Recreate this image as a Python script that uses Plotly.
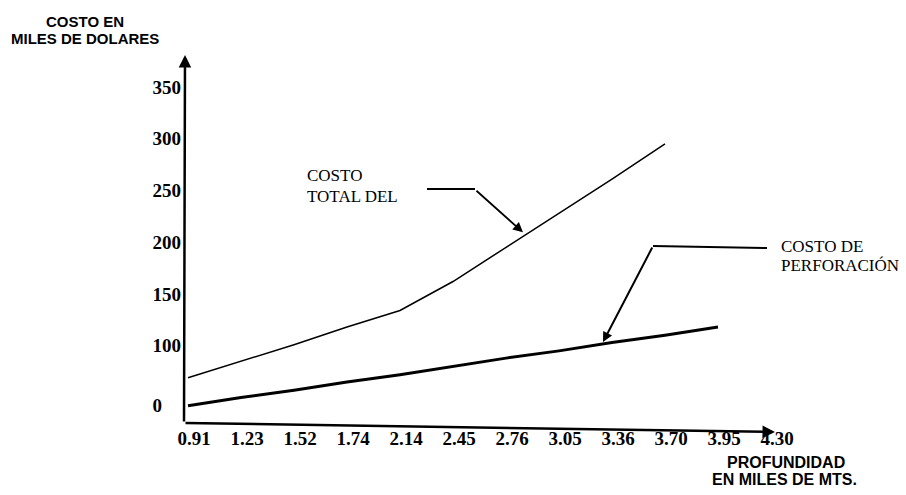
import plotly.graph_objects as go

# ---------------- data ----------------
depth_labels = ["0.91", "1.23", "1.52", "1.74", "2.14", "2.45",
                "2.76", "3.05", "3.36", "3.70", "3.95", "4.30"]
# COSTO TOTAL DEL ... (thin line), values at 0.91 .. 3.70
costo_total = [69, 85, 101, 118, 134, 162, 195, 228, 261, 295]
# COSTO DE PERFORACION (thick line), values at 0.91 .. 3.95
costo_perforacion = [42, 50, 57, 65, 72, 80, 88, 95, 103, 110, 118]
# y tick labels as printed (the hand-drawn axis puts "0" just below 100)
y_tick_text = ["0", "100", "150", "200", "250", "300", "350"]
y_tick_vals = [42, 100, 150, 200, 250, 300, 350]

# ---------------- layout geometry ----------------
W_FIG, H_FIG = 906, 495
L, R, T, B = 184, 806, 50, 423          # plot area in pixels
PW, PH = R - L, B - T
X0PIX, XSTEP = 188, 53                  # pixel of category 0 and step
Y_AT0, YSCALE = 449.2, 1.035            # pixel = Y_AT0 - YSCALE * value

x_range = [(L - X0PIX) / XSTEP, (R - X0PIX) / XSTEP]
y_range = [(Y_AT0 - B) / YSCALE, (Y_AT0 - T) / YSCALE]


def PX(p):
    return (p - L) / PW


def PY(p):
    return (B - p) / PH


serif = "Liberation Serif, Times New Roman, serif"
sans = "Liberation Sans, Arial, sans-serif"

fig = go.Figure()
fig.add_trace(go.Scatter(
    x=list(range(len(costo_total))), y=costo_total, mode="lines",
    line=dict(color="black", width=1.5), showlegend=False, hoverinfo="skip"))
fig.add_trace(go.Scatter(
    x=list(range(len(costo_perforacion))), y=costo_perforacion, mode="lines",
    line=dict(color="black", width=3), showlegend=False, hoverinfo="skip"))

annotations = []
# axes drawn as arrows
annotations.append(dict(xref="paper", yref="paper", x=PX(185), y=PY(55),
                        ax=-1, ay=368, axref="pixel", ayref="pixel", text="",
                        showarrow=True, arrowhead=2, arrowsize=1, arrowwidth=2.5,
                        arrowcolor="black", standoff=0, startstandoff=0))
annotations.append(dict(xref="paper", yref="paper", x=PX(775), y=PY(432),
                        ax=-591, ay=-9, axref="pixel", ayref="pixel", text="",
                        showarrow=True, arrowhead=2, arrowsize=1, arrowwidth=2.5,
                        arrowcolor="black", standoff=0, startstandoff=0))
# pointer arrows
annotations.append(dict(xref="x", yref="y", x=6.32, y=209.5, ax=-48, ay=-43,
                        text="", showarrow=True, arrowhead=2, arrowsize=1.1,
                        arrowwidth=1.8, arrowcolor="black", standoff=0))
annotations.append(dict(xref="x", yref="y", x=7.83, y=103.5, ax=50, ay=-96,
                        text="", showarrow=True, arrowhead=2, arrowsize=1,
                        arrowwidth=2, arrowcolor="black", standoff=0))


def label(text, x, y, size, family, bold=False, xanchor="left"):
    annotations.append(dict(xref="paper", yref="paper", x=PX(x), y=PY(y),
                            text=f"<b>{text}</b>" if bold else text,
                            showarrow=False, xanchor=xanchor, yanchor="middle",
                            font=dict(family=family, size=size, color="black"),
                            borderpad=0))


label("COSTO EN", 85, 21.5, 15, sans, True, "center")
label("MILES DE DOLARES", 85, 38.5, 15, sans, True, "center")
label("PROFUNDIDAD", 786, 462, 16, sans, True, "center")
label("EN MILES DE MTS.", 784, 479, 16, sans, True, "center")
label("COSTO", 306, 175, 17, serif)
label("TOTAL DEL", 306, 196, 17, serif)
label("COSTO DE", 780, 246, 17, serif)
label("PERFORACIÓN", 780, 265, 17, serif)

shapes = [
    dict(type="line", xref="paper", yref="paper", x0=PX(427), y0=PY(189),
         x1=PX(475), y1=PY(189), line=dict(color="black", width=2)),
    dict(type="line", xref="paper", yref="paper", x0=PX(653), y0=PY(246),
         x1=PX(767), y1=PY(248), line=dict(color="black", width=2)),
]

fig.update_layout(
    width=W_FIG, height=H_FIG,
    margin=dict(l=L, r=W_FIG - R, t=T, b=H_FIG - B, autoexpand=False),
    paper_bgcolor="white", plot_bgcolor="white",
    annotations=annotations, shapes=shapes, hovermode=False,
    xaxis=dict(range=x_range, tickmode="array", tickvals=list(range(len(depth_labels))),
               ticktext=["<b>" + t + "</b>" for t in depth_labels],
               showgrid=False, zeroline=False, showline=False,
               ticks="", ticklabelshift=6, ticklabelstandoff=2,
               tickfont=dict(family=serif, size=19, color="black")),
    yaxis=dict(range=y_range, tickmode="array", tickvals=y_tick_vals,
               ticktext=["<b>" + (t + "\u2002\u2002" if t == "0" else t) + "</b>" for t in y_tick_text],
               showgrid=False, zeroline=False, showline=False, ticks="",
               ticklabelstandoff=2,
               tickfont=dict(family=serif, size=19, color="black")),
)

fig.write_html("out.html", config={"displayModeBar": False},
               post_script="document.body.style.margin='0';document.body.style.padding='0';")
